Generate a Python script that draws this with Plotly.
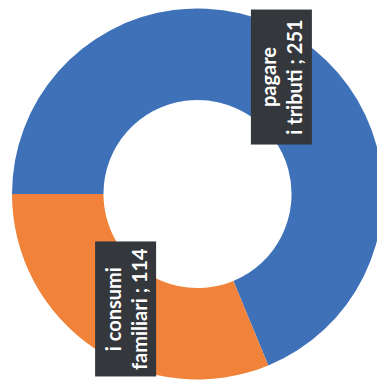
import math
import plotly.graph_objects as go

categories = ["pagare<br>i tributi", "i consumi<br>familiari"]
values = [251, 114]
colors = ["#3f71b9", "#f0823a"]

OFF = 8  # default page body margin
W, H = 385 - OFF, 387 - OFF
cx_px, cy_px, R = 197.5 - OFF, 194.0 - OFF, 185.5
hole = 0.507
rotation = 270  # first slice starts at 9 o'clock, clockwise

fig = go.Figure()
fig.add_trace(go.Pie(
    labels=categories,
    values=values,
    hole=hole,
    sort=False,
    direction="clockwise",
    rotation=rotation,
    marker=dict(colors=colors, line=dict(width=0)),
    textinfo="none",
    hoverinfo="label+value",
    showlegend=False,
    domain=dict(x=[max(0, (cx_px - R) / W), min(1, (cx_px + R) / W)],
                y=[max(0, (H - cy_px - R) / H), min(1, (H - cy_px + R) / H)]),
))

# labels at the middle of each slice, computed from the data
total = sum(values)
start = rotation
r_lbl = R * (1 + hole) / 2
for cat, val in zip(categories, values):
    span = 360 * val / total
    mid = math.radians(start + span / 2)
    start += span
    x = (cx_px + r_lbl * math.sin(mid)) / W
    y = (H - cy_px + r_lbl * math.cos(mid)) / H
    fig.add_annotation(
        x=x, y=y, xref="paper", yref="paper",
        text=f"<b>{cat} ; {val}</b>",
        showarrow=False, textangle=-90,
        font=dict(family="Lato", size=20, color="white"),
        bgcolor="#34373c", width=132, height=58,
        align="center", xanchor="center", yanchor="middle",
        xshift=6, yshift=1,
    )

fig.update_layout(
    width=W, height=H,
    margin=dict(l=0, r=0, t=0, b=0),
    paper_bgcolor="white", plot_bgcolor="white",
)
fig.write_html("out.html")
